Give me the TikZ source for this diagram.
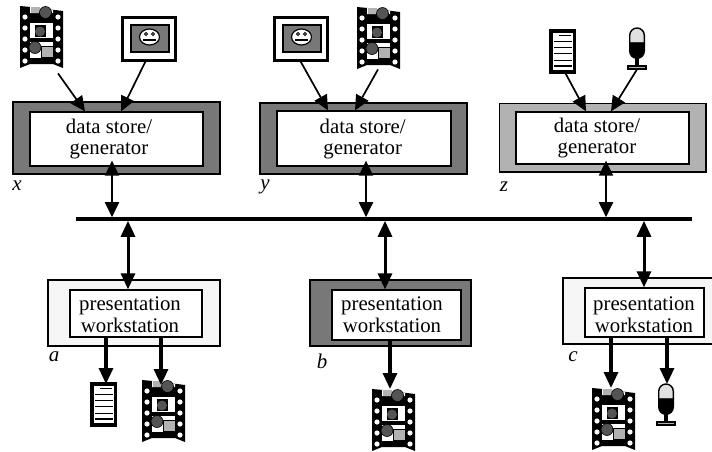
\documentclass[tikz,border=0pt]{standalone}
\usepackage{fontspec}
\setmainfont{Liberation Serif}
\usetikzlibrary{arrows.meta}
\definecolor{darkfill}{gray}{0.47}
\definecolor{midfill}{gray}{0.70}
\definecolor{palefill}{gray}{0.965}
\definecolor{frameball}{gray}{0.33}
\definecolor{framesq}{gray}{0.70}
\tikzset{
  outerbox/.style={draw=black,line width=1.3pt,inner sep=0pt,fill=#1},
  innerbox/.style={draw=black,line width=1.3pt,inner sep=0pt,fill=white},
  caption/.style={inner sep=0pt,align=center,font=\fontsize{20.8}{21.6}\selectfont},
  tag/.style={inner sep=0pt,font=\fontsize{21}{21}\selectfont\itshape},
  slot/.style={inner sep=0pt,anchor=north west,minimum width=#1},
  thinarr/.style={line width=1.7pt,-{Triangle[length=15pt,width=14pt]}},
  dblarr/.style={line width=1.9pt,{Triangle[length=15pt,width=14pt]}-{Triangle[length=15pt,width=14pt]}},
  dblthick/.style={line width=3pt,{Triangle[length=16pt,width=14pt]}-{Triangle[length=16pt,width=14pt]}},
  outarr/.style={line width=3.2pt,-{Triangle[length=16pt,width=14pt]}},
  film/.pic={
    \fill[black] (0,0) -- (11,1) -- (43,5) -- (43,62) -- (33,58) -- (10,58) -- (0,62) -- cycle;
    \fill[white] (10,0.9) -- (33,3.8) -- (33,7) -- (10,7) -- cycle;
    \fill[white] (10,17) rectangle (33,32);
    \fill[white] (10,36) rectangle (33,52);
    \fill[framesq] (10.5,1.2) rectangle (20,6.5);
    \filldraw[fill=frameball,draw=black,line width=.6pt] (25.5,6.5) circle (6);
    \fill[black] (14.5,19) rectangle (25.5,31);
    \fill[frameball] (20,25.5) circle (5);
    \filldraw[fill=framesq,draw=black,line width=.6pt] (21,40) rectangle (33,51);
    \filldraw[fill=frameball,draw=black,line width=.6pt] (15,41.5) circle (6);
    \foreach \yy in {11,22,33,44,55}{
      \fill[white] (5,\yy) circle (2.6);
      \fill[white] (38,\yy) circle (2.6);}
  },
  picframe/.pic={
    \draw[line width=3pt,fill=white] (0,0) rectangle (53,43);
    \draw[line width=1.2pt,fill=darkfill] (9,8) rectangle (47,35);
    \draw[line width=1.2pt,fill=white] (27.5,20) ellipse (10 and 8);
    \draw[line width=.9pt] (24,17) circle (1.5) (31,17) circle (1.5);
    \draw[line width=1.1pt] (21,23) -- (34,23);
  },
  docicon/.pic={
    \fill[black] (-1.6,-1.6) rectangle (25.1,42.6);
    \fill[white] (1.6,1.6) rectangle (21.9,39.4);
    \draw[line width=1.3pt] (8,4.6) -- (20,4.6);
    \foreach \yy in {10.3,16.7,22.7,29.3,35}{\draw[line width=1.3pt] (3,\yy) -- (21,\yy);}
  },
  micicon/.pic={
    \draw[line width=1.1pt,fill=framesq] (-9,38) rectangle (9,41);
    \fill[black] (-1.8,29) rectangle (1.8,38);
    \draw[line width=1.4pt,fill=black!12] (-7.3,7.3) arc[start angle=180,end angle=360,radius=7.3] -- (7.3,15) -- (-7.3,15) -- cycle;
    \fill[black] (-8,14.5) -- (8,14.5) -- (8,23) arc[start angle=0,end angle=180,radius=8] -- cycle;
  }
}
\newcommand\putfilm[3]{\node[slot=43pt,minimum height=62pt] (#1) at (#2,#3) {}; \pic at (#2,#3) {film};}
\newcommand\putpic[3]{\node[slot=53pt,minimum height=43pt] (#1) at (#2,#3) {}; \pic at (#2,#3) {picframe};}
\newcommand\putdoc[3]{\node[slot=24pt,minimum height=41pt] (#1) at (#2,#3) {}; \pic at (#2,#3) {docicon};}
\newcommand\putmic[3]{\node[slot=18pt,minimum height=41pt] (#1) at (#2-9,#3) {}; \pic at (#2,#3) {micicon};}
\begin{document}
\begin{tikzpicture}[x=1pt,y=-1pt]
\useasboundingbox (0,0) rectangle (712,451);
\clip (0,0) rectangle (712,451);

% upper boxes
\node[outerbox=darkfill,minimum width=207pt,minimum height=72pt] (xo) at (116.5,138) {};
\node[innerbox,minimum width=173pt,minimum height=54pt] (xi) at (116.5,139) {};
\node[caption] (xt) at (109,139) {data store/\\generator};
\node[outerbox=darkfill,minimum width=207pt,minimum height=71pt] (yo) at (363.5,138.5) {};
\node[innerbox,minimum width=174pt,minimum height=55pt] (yi) at (364,138.5) {};
\node[caption] (yt) at (362.7,139) {data store/\\generator};
\node[outerbox=midfill,minimum width=206.5pt,minimum height=68.5pt] (zo) at (602.75,137.75) {};
\node[innerbox,minimum width=173pt,minimum height=52pt] (zi) at (602.5,138) {};
\node[caption] (zt) at (597,138) {data store/\\generator};

% bus
\node[fill=black,inner sep=0pt,minimum width=616pt,minimum height=3.2pt] (bus) at (384,219) {};

% lower boxes
\node[outerbox=palefill,minimum width=172pt,minimum height=66pt] (ao) at (134,313) {};
\node[innerbox,minimum width=132pt,minimum height=47pt] (ai) at (136,313.5) {};
\node[caption] (at) at (130,315) {presentation\\workstation};
\node[outerbox=darkfill,minimum width=161pt,minimum height=66pt] (bo) at (390.5,313) {};
\node[innerbox,minimum width=129pt,minimum height=50pt] (bi) at (396.5,315) {};
\node[caption] (bt) at (392,315) {presentation\\workstation};
\node[outerbox=palefill,minimum width=167pt,minimum height=66pt] (co) at (646.5,311) {};
\node[innerbox,minimum width=119pt,minimum height=49pt] (ci) at (644.5,312.5) {};
\node[caption] (ct) at (644,315) {presentation\\workstation};

% tags
\node[tag] (xl) at (17,186) {x};
\node[tag] (yl) at (265,187) {y};
\node[tag] (zl) at (504,187) {z};
\node[tag] (al) at (54,357) {a};
\node[tag] (bl) at (322,361) {b};
\node[tag] (cl) at (573,357) {c};

% icons
\putfilm{fx}{20}{6}
\putpic{px}{122}{17}
\putpic{py}{274}{17}
\putfilm{fy}{357}{7}
\putdoc{dz}{551}{31}
\putmic{mz}{637}{28}
\putdoc{da}{92}{384}
\putfilm{fa}{142}{380}
\putfilm{fb}{372}{389}
\putfilm{fc}{592}{388}
\putmic{mc}{666}{384}

% connectors into stores
\draw[thinarr] ([yshift=-5pt]58,0 |- fx.south) -- (85,0 |- xi.north);
\draw[thinarr] (146,0 |- px.south) -- (121,0 |- xi.north);
\draw[thinarr] (300,0 |- py.south) -- (328,0 |- yi.north);
\draw[thinarr] (378,0 |- fy.south) -- (355,0 |- yi.north);
\draw[thinarr] (565,0 |- dz.south) -- (586,0 |- zi.north);
\draw[thinarr] (637,0 |- mz.south) -- (611,0 |- zi.north);

% stores to bus
\draw[dblarr] (112,0 |- xi.south) ++(0,-6) -- (112,0 |- bus.north);
\draw[dblarr] (366,0 |- yi.south) ++(0,-6) -- (366,0 |- bus.north);
\draw[dblarr] (606,0 |- zi.south) ++(0,-4) -- (606,0 |- bus.north);

% bus to workstations
\draw[dblthick] (128,0 |- bus.south) -- (128,0 |- ai.north);
\draw[dblthick] (385,0 |- bus.south) -- (385,0 |- bi.north);
\draw[dblthick] (644,0 |- bus.south) -- (644,0 |- ci.north);

% workstations to outputs
\draw[outarr] (106,0 |- ai.south) -- (106,0 |- da.north);
\draw[outarr] (161,0 |- ai.south) -- (161,385);
\draw[outarr] (390,0 |- bi.south) -- (390,0 |- fb.north);
\draw[outarr] (611,0 |- ci.south) -- (611,0 |- fc.north);
\draw[outarr] (667,0 |- ci.south) -- (667,0 |- mc.north);
\end{tikzpicture}
\end{document}
